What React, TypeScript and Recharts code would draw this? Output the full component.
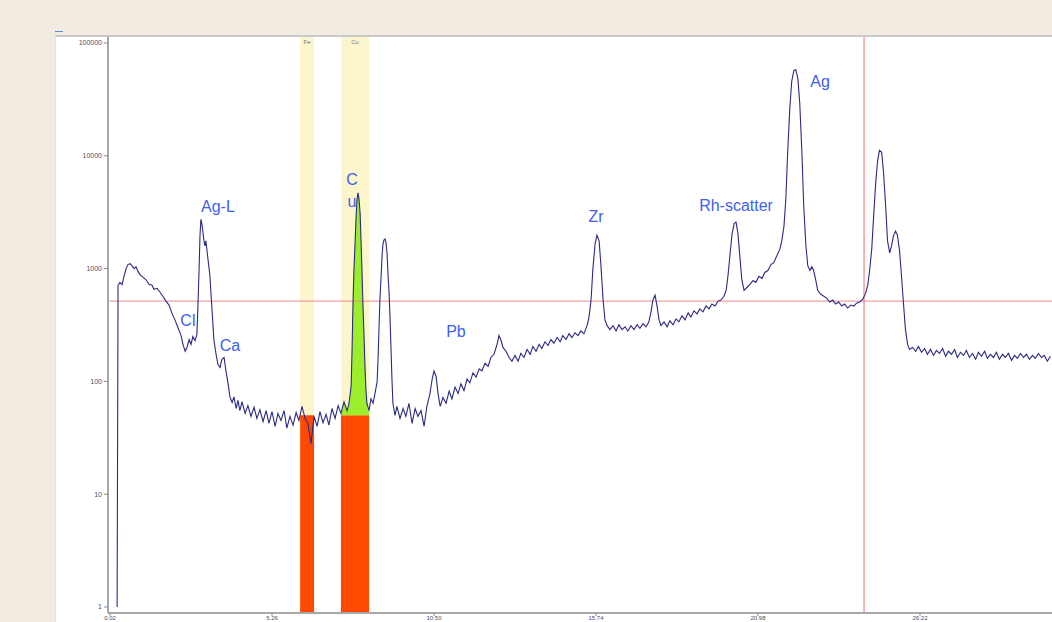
import { Area, ComposedChart, Line, ReferenceArea, ReferenceDot, ReferenceLine, XAxis, YAxis } from "recharts";

// spectrum, [keV, counts]
const lowEnergy: [number, number][] = [
  [0.25, 1], [0.28, 711], [0.34, 755], [0.41, 720], [0.47, 850], [0.54, 1000], [0.6, 1085], [0.67, 1106],
  [0.73, 1062], [0.8, 1000], [0.86, 1040], [0.93, 940], [0.99, 885], [1.09, 835], [1.18, 800], [1.28, 725],
  [1.38, 711], [1.44, 655], [1.54, 669], [1.64, 617], [1.73, 569], [1.83, 515], [1.93, 475], [2.03, 397],
  [2.12, 351], [2.22, 299], [2.32, 255], [2.38, 213], [2.45, 185], [2.51, 200], [2.58, 235], [2.64, 213],
  [2.7, 250], [2.77, 230], [2.83, 260], [2.86, 430], [2.9, 961], [2.93, 1940], [2.96, 2735], [2.99, 2520],
  [3.06, 1760], [3.09, 1590], [3.12, 1760], [3.15, 1500], [3.25, 869], [3.32, 430], [3.38, 235], [3.45, 174],
  [3.51, 142], [3.58, 133], [3.64, 157], [3.71, 163], [3.77, 124], [3.84, 95], [3.9, 73], [3.97, 65],
  [4.03, 73], [4.1, 57.5], [4.16, 68], [4.22, 55],
];

const feCuRegion: [number, number][] = [
  [4.29, 66], [4.39, 52], [4.48, 61], [4.58, 49], [4.68, 59], [4.77, 47], [4.87, 56], [4.97, 44],
  [5.07, 55], [5.16, 42.5], [5.26, 54], [5.36, 40], [5.45, 52], [5.55, 45], [5.65, 55], [5.74, 38.5],
  [5.84, 49], [5.94, 41], [6.04, 53], [6.13, 45], [6.23, 60], [6.33, 47], [6.42, 42.5], [6.52, 28],
  [6.62, 49], [6.72, 40], [6.81, 54], [6.91, 43], [7.01, 51], [7.1, 41], [7.2, 57.5], [7.3, 47],
  [7.4, 61], [7.49, 52], [7.59, 66], [7.69, 55], [7.75, 64], [7.82, 91], [7.85, 192], [7.88, 494],
  [7.91, 961], [7.95, 1760], [7.98, 2900], [8.01, 4090], [8.04, 4700], [8.07, 4260], [8.11, 3090], [8.14, 1760],
  [8.17, 961], [8.2, 494], [8.24, 235], [8.27, 129], [8.3, 83], [8.33, 64], [8.4, 55], [8.46, 70],
  [8.53, 64], [8.59, 78], [8.66, 99], [8.69, 157], [8.72, 288], [8.75, 526], [8.79, 869], [8.82, 1300],
  [8.85, 1650], [8.88, 1790], [8.92, 1830], [8.95, 1680], [8.98, 1380], [9.01, 922], [9.05, 581], [9.08, 351],
  [9.11, 192], [9.14, 105], [9.17, 64], [9.24, 50], [9.3, 60], [9.4, 47], [9.5, 57.5], [9.59, 49],
  [9.69, 64], [9.79, 42.5], [9.89, 57.5], [9.98, 49], [10.08, 55], [10.18, 40], [10.27, 60],
];

const midRegion: [number, number][] = [
  [10.37, 78], [10.44, 105], [10.5, 124], [10.57, 110], [10.63, 78], [10.7, 60], [10.79, 72], [10.89, 64],
  [10.99, 82], [11.08, 70], [11.18, 89], [11.28, 78], [11.37, 95], [11.47, 83], [11.57, 105], [11.66, 97],
  [11.76, 119], [11.86, 109], [11.96, 129], [12.05, 124], [12.15, 145], [12.25, 136], [12.34, 163], [12.44, 174],
  [12.54, 213], [12.6, 255], [12.66, 235], [12.73, 200], [12.83, 185], [12.93, 163], [13.02, 151], [13.12, 170],
  [13.22, 151], [13.31, 177], [13.41, 163], [13.51, 192], [13.61, 174], [13.7, 204], [13.8, 185], [13.9, 213],
  [13.99, 196], [14.09, 225], [14.19, 208], [14.28, 235], [14.38, 218], [14.48, 245], [14.58, 225], [14.67, 255],
  [14.77, 235], [14.87, 265], [14.96, 245], [15.06, 270], [15.16, 255], [15.25, 280], [15.35, 265], [15.45, 312],
  [15.51, 366], [15.58, 526], [15.64, 1000], [15.71, 1650], [15.77, 1980], [15.84, 1760], [15.9, 1062], [15.97, 526],
  [16.03, 351], [16.1, 312], [16.19, 288], [16.29, 312], [16.39, 280], [16.48, 318], [16.58, 288], [16.68, 305],
  [16.77, 280], [16.87, 312], [16.97, 288], [17.07, 318], [17.16, 295], [17.26, 325], [17.36, 305], [17.45, 337],
  [17.52, 414], [17.58, 526], [17.65, 581], [17.71, 475], [17.78, 351], [17.84, 312], [17.94, 337], [18.04, 305],
  [18.13, 344], [18.23, 318], [18.33, 358], [18.42, 337], [18.52, 381], [18.62, 351], [18.72, 405], [18.81, 373],
  [18.91, 422], [19.01, 397], [19.1, 440], [19.2, 414], [19.3, 466], [19.4, 440], [19.49, 485], [19.59, 466],
  [19.69, 515], [19.78, 526], [19.88, 569], [19.95, 642], [20.01, 869], [20.08, 1380], [20.14, 2020], [20.21, 2520],
  [20.27, 2580], [20.33, 2060], [20.4, 1220], [20.46, 785], [20.53, 642], [20.62, 680], [20.72, 725], [20.82, 785],
  [20.91, 755], [21.01, 855], [21.11, 820], [21.2, 925], [21.3, 961], [21.4, 1085], [21.49, 1130], [21.59, 1300],
  [21.69, 1495], [21.75, 1760], [21.82, 2380], [21.88, 4090], [21.94, 10740], [22.01, 26600], [22.07, 45600],
  [22.14, 56900], [22.2, 58000], [22.27, 48500], [22.33, 29400], [22.4, 10740], [22.46, 3550], [22.53, 1588],
  [22.59, 1062], [22.66, 961], [22.72, 1040], [22.78, 961], [22.85, 785], [22.91, 642],
];

const highRegion: [number, number][] = [
  [23.01, 592], [23.11, 569], [23.2, 547], [23.3, 505], [23.4, 526], [23.49, 485], [23.59, 505], [23.69, 466],
  [23.78, 485], [23.88, 447], [23.98, 475], [24.08, 466], [24.17, 494], [24.27, 505], [24.37, 536], [24.46, 603],
  [24.53, 711], [24.59, 961], [24.66, 1495], [24.72, 2905], [24.79, 5870], [24.85, 9120], [24.91, 11170], [24.98, 10740],
  [25.04, 7180], [25.11, 3550], [25.17, 1760], [25.24, 1380], [25.3, 1588], [25.36, 1940], [25.43, 2150], [25.49, 1980],
  [25.56, 1436], [25.62, 869], [25.69, 475], [25.75, 288], [25.82, 213], [25.88, 192], [25.98, 200], [26.08, 185],
  [26.17, 204], [26.27, 181], [26.37, 196], [26.46, 174], [26.56, 192], [26.66, 170], [26.75, 188], [26.85, 177],
  [26.95, 196], [27.05, 167], [27.14, 185], [27.24, 174], [27.34, 192], [27.43, 163], [27.53, 181], [27.63, 170],
  [27.72, 188], [27.82, 163], [27.92, 177], [28.02, 157], [28.11, 181], [28.21, 167], [28.31, 185], [28.4, 160],
  [28.5, 174], [28.6, 163], [28.69, 181], [28.79, 157], [28.89, 174], [28.98, 163], [29.08, 177], [29.18, 154],
  [29.28, 170], [29.37, 160], [29.47, 177], [29.57, 163], [29.66, 174], [29.76, 157], [29.86, 170], [29.95, 160],
  [30.05, 177], [30.15, 163], [30.24, 170], [30.34, 151], [30.44, 167],
];

const xTicks = [0.02, 5.26, 10.5, 15.74, 20.98, 26.22];
const yTicks = [1, 10, 100, 1000, 10000, 100000];

const feBand = [6.17, 6.62];
const cuBand = [7.49, 8.4];
const roiLevel = 50;
const cursorKeV = 24.41;
const cursorCounts = 515;

const peakNames = ["Ag-L", "Cl", "Ca", "C", "u", "Pb", "Zr", "Rh-scatter", "Ag"];
const peakKeV = [3.51, 2.54, 3.9, 7.85, 7.85, 11.21, 15.74, 20.27, 22.99];
const peakCounts = [3550, 351, 208, 6240, 3930, 276, 2905, 3625, 45600];

const blue = "#4060ee";

export default function App() {
  const data = [...lowEnergy, ...feCuRegion, ...midRegion, ...highRegion].map(([keV, counts]) => ({
    keV,
    counts,
    cu: keV >= cuBand[0] && keV <= cuBand[1] ? Math.max(counts, roiLevel) : null,
  }));

  return (
    <div
      style={{
        position: "absolute",
        left: 0,
        top: 0,
        width: 1052,
        height: 622,
        overflow: "hidden",
        background: "#f2ebe2",
        fontFamily: "'Liberation Sans', Arial, sans-serif",
      }}
    >
      <div style={{ position: "absolute", left: 55, top: 31, width: 8, height: 1, background: "#5b8fd8" }} />
      <div
        style={{
          position: "absolute",
          left: 55,
          top: 35,
          width: 1010,
          height: 600,
          background: "#fff",
          borderTop: "2px solid #c9c9c9",
          borderLeft: "1px solid #e2e2e2",
        }}
      />
      <div style={{ position: "absolute", left: 0, top: 0 }}>
        <ComposedChart width={1052} height={640} data={data} margin={{ top: 37, right: 0, bottom: 7, left: 48 }}>
          <XAxis
            type="number"
            dataKey="keV"
            domain={[-0.045, 30.49]}
            allowDataOverflow
            ticks={xTicks}
            interval={0}
            tickFormatter={(v: number) => v.toFixed(2)}
            tick={{ fontSize: 6, fill: "#4a4a6a" }}
            tickSize={3}
            tickMargin={0}
            height={20}
            axisLine={{ stroke: "#a8a8a8", strokeWidth: 2 }}
            tickLine={{ stroke: "#888" }}
          />
          <YAxis
            type="number"
            scale="log"
            domain={[0.885, 113000]}
            allowDataOverflow
            ticks={yTicks}
            interval={0}
            tickFormatter={(v: number) => String(v)}
            tick={{ fontSize: 7, fill: "#4a4a6a" }}
            tickSize={4}
            width={60}
            axisLine={{ stroke: "#a8a8a8", strokeWidth: 2 }}
            tickLine={{ stroke: "#888" }}
          />
          <ReferenceArea
            x1={feBand[0]}
            x2={feBand[1]}
            fill="#fdf6cc"
            fillOpacity={1}
            label={{ value: "Fe", position: "insideTop", fontSize: 6, fill: "#777", offset: 3 }}
          />
          <ReferenceArea
            x1={cuBand[0]}
            x2={cuBand[1]}
            fill="#fdf6cc"
            fillOpacity={1}
            label={{ value: "Cu", position: "insideTop", fontSize: 6, fill: "#777", offset: 3 }}
          />
          <ReferenceArea x1={feBand[0]} x2={feBand[1]} y1={0.885} y2={roiLevel} fill="#ff4800" fillOpacity={1} />
          <ReferenceArea x1={cuBand[0]} x2={cuBand[1]} y1={0.885} y2={roiLevel} fill="#ff4800" fillOpacity={1} />
          <Area
            type="linear"
            dataKey="cu"
            baseValue={roiLevel}
            fill="#9cee2c"
            fillOpacity={1}
            stroke="none"
            dot={false}
            activeDot={false}
            isAnimationActive={false}
          />
          <ReferenceLine y={cursorCounts} stroke="#f08a8a" strokeWidth={1} />
          <ReferenceLine x={cursorKeV} stroke="#ee6e6e" strokeWidth={1} />
          <Line
            type="linear"
            dataKey="counts"
            stroke="#2a2a84"
            strokeWidth={1.1}
            dot={false}
            activeDot={false}
            isAnimationActive={false}
          />
          {peakNames.map((name, i) => (
            <ReferenceDot
              key={name + i}
              x={peakKeV[i]}
              y={peakCounts[i]}
              r={0}
              fill="none"
              stroke="none"
              label={{ value: name, position: "center", fill: blue, fontSize: 16 }}
            />
          ))}
        </ComposedChart>
      </div>
    </div>
  );
}
